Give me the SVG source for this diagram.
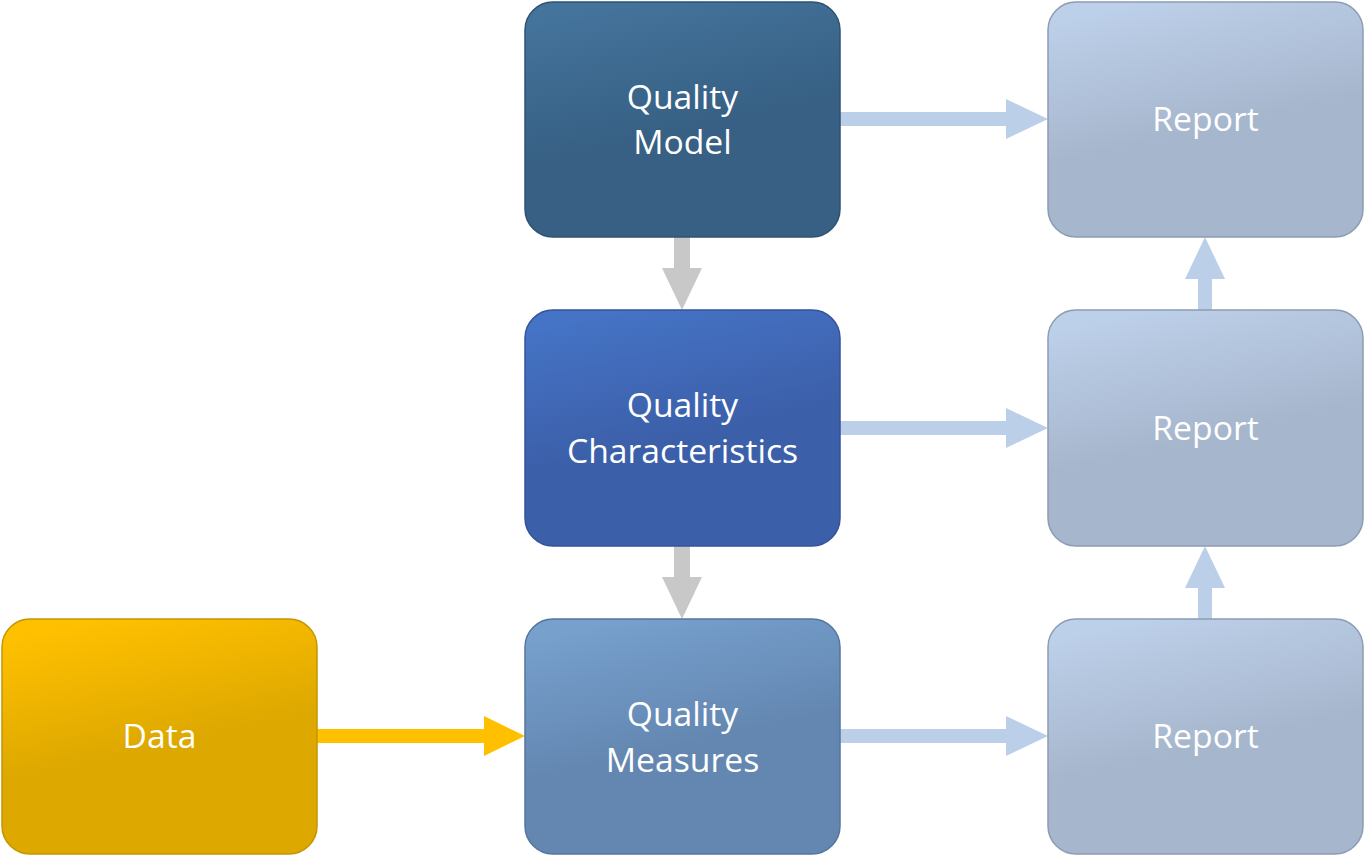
<svg xmlns="http://www.w3.org/2000/svg" width="1365" height="856" viewBox="0 0 1365 856">
<style>
.lbl{font-family:"Open Sans","Noto Sans","Liberation Sans",sans-serif;font-size:33.7px;fill:#ffffff;text-anchor:middle}
.box{stroke-width:1.5}
</style>
<defs>
<linearGradient id="gModel" x1="0.3" y1="0" x2="0.6" y2="1">
<stop offset="0" stop-color="#44739b"/><stop offset="0.55" stop-color="#376084"/><stop offset="1" stop-color="#376084"/>
</linearGradient>
<linearGradient id="gChar" x1="0.3" y1="0" x2="0.6" y2="1">
<stop offset="0" stop-color="#4573c5"/><stop offset="0.55" stop-color="#3c5fa9"/><stop offset="1" stop-color="#3c5fa9"/>
</linearGradient>
<linearGradient id="gMeas" x1="0.3" y1="0" x2="0.6" y2="1">
<stop offset="0" stop-color="#77a0cd"/><stop offset="0.55" stop-color="#6387b1"/><stop offset="1" stop-color="#6387b1"/>
</linearGradient>
<linearGradient id="gRep" x1="0.3" y1="0" x2="0.6" y2="1">
<stop offset="0" stop-color="#bdd0e9"/><stop offset="0.55" stop-color="#a6b6cd"/><stop offset="1" stop-color="#a6b6cd"/>
</linearGradient>
<linearGradient id="gData" x1="0.3" y1="0" x2="0.6" y2="1">
<stop offset="0" stop-color="#ffc000"/><stop offset="0.55" stop-color="#dda800"/><stop offset="1" stop-color="#dda800"/>
</linearGradient>
</defs>

<g id="connectors">
<g fill="#bccfe8">
<polygon points="840,112 1006,112 1006,99 1048,119 1006,139 1006,126 840,126"/>
<polygon points="840,421 1006,421 1006,408 1048,428 1006,448 1006,435 840,435"/>
<polygon points="840,729 1006,729 1006,716 1048,736 1006,756 1006,743 840,743"/>
<polygon points="1198,310 1198,279 1185,279 1205,237 1225,279 1212,279 1212,310"/>
<polygon points="1198,619 1198,588 1185,588 1205,546 1225,588 1212,588 1212,619"/>
</g>
<g fill="#c8c8c8">
<polygon points="674,237 690,237 690,268 702,268 682,310 662,268 674,268"/>
<polygon points="674,546 690,546 690,577 702,577 682,619 662,577 674,577"/>
</g>
<polygon fill="#ffc000" points="317,729 484,729 484,716 525,736 484,756 484,743 317,743"/>
</g>

<g id="node-quality-model">
<rect class="box" x="525" y="2" width="315" height="235" rx="28" fill="url(#gModel)" stroke="#2e5273"/>
<text class="lbl" x="682.5" y="109">Quality</text>
<text class="lbl" x="682.5" y="154">Model</text>
</g>
<g id="node-quality-characteristics">
<rect class="box" x="525" y="310" width="315" height="236" rx="28" fill="url(#gChar)" stroke="#34539a"/>
<text class="lbl" x="682.5" y="417">Quality</text>
<text class="lbl" x="682.5" y="463">Characteristics</text>
</g>
<g id="node-quality-measures">
<rect class="box" x="525" y="619" width="315" height="235" rx="28" fill="url(#gMeas)" stroke="#55769c"/>
<text class="lbl" x="682.5" y="726">Quality</text>
<text class="lbl" x="682.5" y="772">Measures</text>
</g>
<g id="node-data">
<rect class="box" x="2" y="619" width="315" height="235" rx="28" fill="url(#gData)" stroke="#c49500"/>
<text class="lbl" x="159.5" y="748">Data</text>
</g>
<g id="node-report-1">
<rect class="box" x="1048" y="2" width="315" height="235" rx="28" fill="url(#gRep)" stroke="#8c9cb2"/>
<text class="lbl" x="1205.5" y="131">Report</text>
</g>
<g id="node-report-2">
<rect class="box" x="1048" y="310" width="315" height="236" rx="28" fill="url(#gRep)" stroke="#8c9cb2"/>
<text class="lbl" x="1205.5" y="440">Report</text>
</g>
<g id="node-report-3">
<rect class="box" x="1048" y="619" width="315" height="235" rx="28" fill="url(#gRep)" stroke="#8c9cb2"/>
<text class="lbl" x="1205.5" y="748">Report</text>
</g>
</svg>
